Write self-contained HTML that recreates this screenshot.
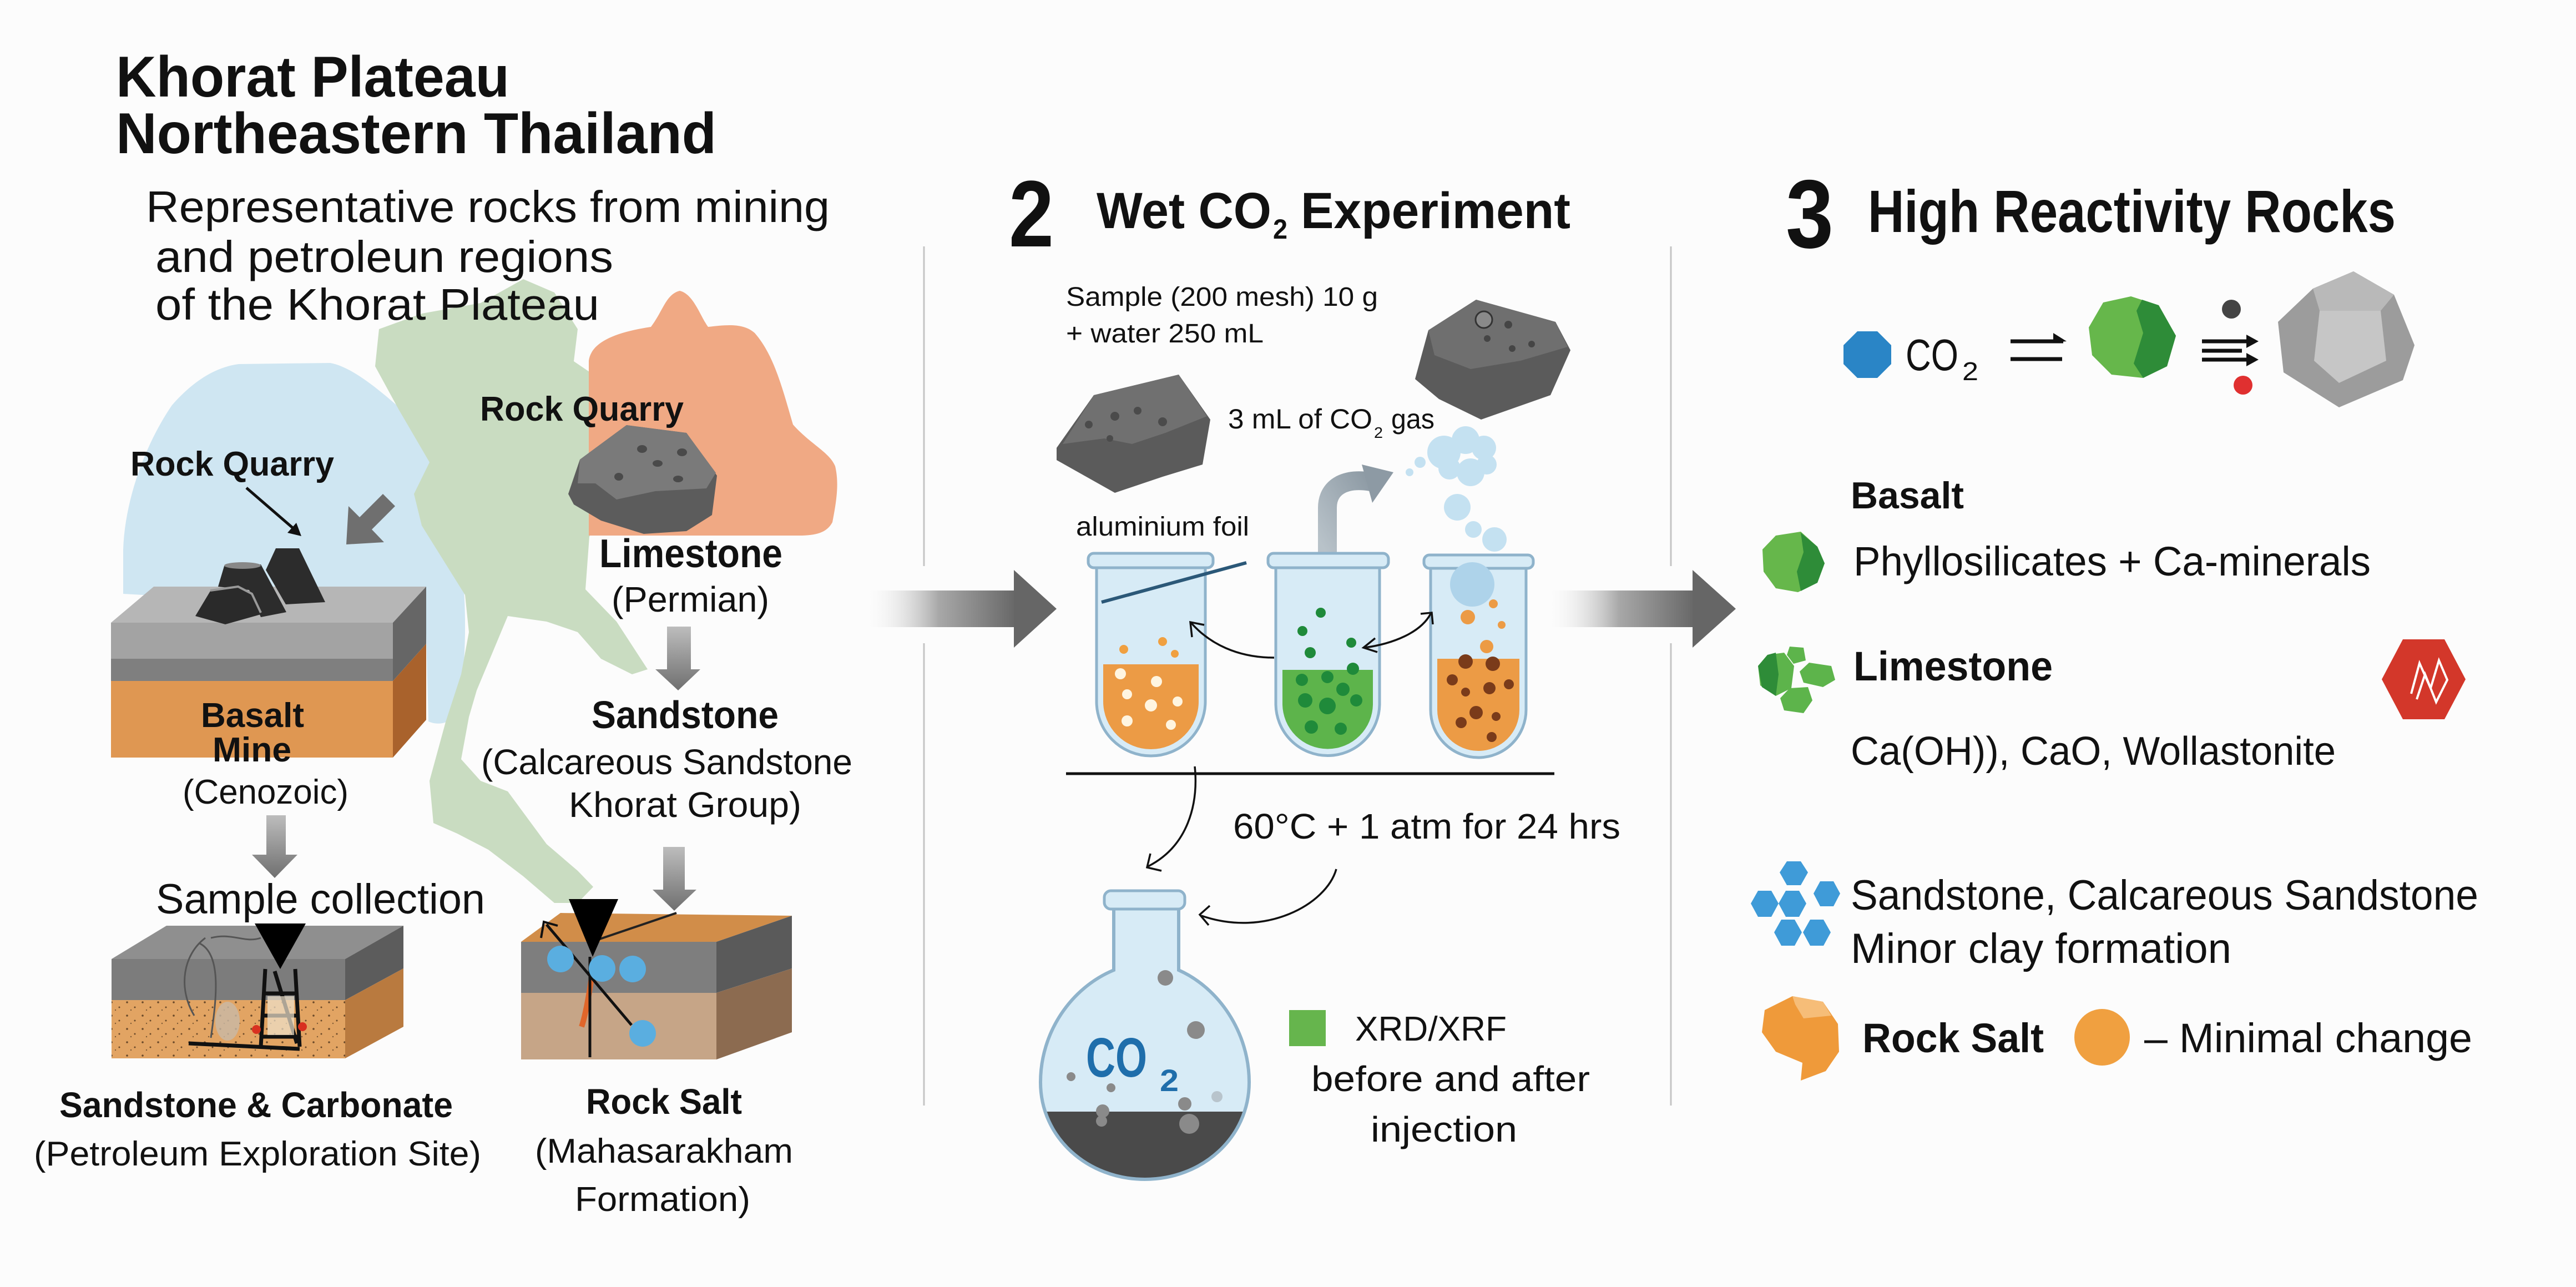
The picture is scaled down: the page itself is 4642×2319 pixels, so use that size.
<!DOCTYPE html>
<html><head><meta charset="utf-8"><style>
html,body{margin:0;padding:0;background:#fcfcfc;}
svg{display:block;}
text{font-family:"Liberation Sans",sans-serif;fill:#111;}
.b{font-weight:bold;}
</style></head><body>
<svg width="4642" height="2319" viewBox="0 0 4642 2319" xmlns="http://www.w3.org/2000/svg">
<defs>
<linearGradient id="ha" x1="0" y1="0" x2="1" y2="0"><stop offset="0" stop-color="#ffffff" stop-opacity="0"/><stop offset="0.5" stop-color="#a8a8a8"/><stop offset="1" stop-color="#686868"/></linearGradient>
<linearGradient id="va" x1="0" y1="0" x2="0" y2="1"><stop offset="0" stop-color="#bdbdbd"/><stop offset="1" stop-color="#6f6f6f"/></linearGradient>
<linearGradient id="ga" x1="0" y1="1" x2="1" y2="0"><stop offset="0" stop-color="#b8c2c9"/><stop offset="1" stop-color="#8d9aa4"/></linearGradient>
<pattern id="sand" width="28" height="24" patternUnits="userSpaceOnUse"><rect width="28" height="24" fill="#e2a463"/><circle cx="5" cy="6" r="1.8" fill="#6b4a2a"/><circle cx="19" cy="15" r="1.5" fill="#6b4a2a"/><circle cx="12" cy="20" r="1.2" fill="#7d5a35"/></pattern>
<clipPath id="flaskclip"><path d="M2007,1636 L2007,1748 C1930,1780 1875,1860 1875,1950 C1875,2050 1960,2125 2063,2125 C2166,2125 2251,2050 2251,1950 C2251,1860 2196,1780 2124,1748 L2124,1636 Z"/></clipPath>
</defs>
<rect width="4642" height="2319" fill="#fcfcfc"/>

<!-- ============ LEFT PANEL ============ -->
<!-- blue region -->
<path d="M222,1070 L222,990 C225,900 262,800 310,730 C345,690 385,662 430,656 L595,654 C640,662 700,715 775,785 C800,840 815,920 830,1000 C842,1090 840,1190 828,1270 C822,1300 795,1310 772,1300 L767,1100 Z" fill="#cfe6f2"/>
<!-- green Thailand -->
<path d="M683,593 L760,565 L866,546 L943,503 L999,527 L1041,593 L1034,651 L1062,670 L1083,737 L1083,928 L1062,967 L1055,1062 L1111,1120 L1167,1206 L1139,1215 L1083,1187 L1041,1139 L985,1120 L915,1110 L887,1177 L859,1244 L845,1292 L831,1368 L866,1407 L915,1426 L943,1464 L985,1521 L1041,1569 L1069,1598 L1041,1627 L999,1627 L943,1579 L880,1531 L824,1502 L781,1483 L774,1407 L803,1301 L831,1215 L845,1139 L838,1072 L760,947 L746,890 L774,833 L718,737 L676,660 Z" fill="#c9dcc1"/>
<!-- orange region -->
<path d="M1061,965 L1061,650 C1065,620 1100,600 1173,589 C1195,560 1200,530 1225,524 C1250,530 1262,570 1276,589 C1310,585 1340,582 1360,600 C1395,640 1410,700 1429,765 C1460,800 1495,815 1505,840 C1512,870 1508,900 1500,941 C1490,960 1470,965 1440,965 Z" fill="#f0a984"/>

<!-- Titles -->
<text class="b" x="209" y="174" font-size="104" textLength="709" lengthAdjust="spacingAndGlyphs">Khorat Plateau</text>
<text class="b" x="209" y="276" font-size="104" textLength="1082" lengthAdjust="spacingAndGlyphs">Northeastern Thailand</text>
<text x="263" y="400" font-size="80" textLength="1232" lengthAdjust="spacingAndGlyphs">Representative rocks from mining</text>
<text x="280" y="490" font-size="80" textLength="825" lengthAdjust="spacingAndGlyphs">and petroleun regions</text>
<text x="280" y="576" font-size="80" textLength="800" lengthAdjust="spacingAndGlyphs">of the Khorat Plateau</text>

<!-- limestone rock -->
<polygon points="1024,890 1045,828 1129,766 1237,780 1292,857 1283,928 1237,957 1160,962 1083,938 1034,909" fill="#5c5c5c"/>
<polygon points="1045,828 1129,766 1237,780 1290,852 1273,880 1181,885 1111,900 1073,871 1041,871" fill="#7a7a7a"/>
<g fill="#4a4a4a"><ellipse cx="1157" cy="809" rx="9" ry="7"/><ellipse cx="1229" cy="815" rx="9" ry="7"/><ellipse cx="1185" cy="835" rx="9" ry="6"/><ellipse cx="1115" cy="859" rx="8" ry="7"/><ellipse cx="1222" cy="863" rx="9" ry="6"/></g>

<text class="b" x="865" y="758" font-size="62" textLength="367" lengthAdjust="spacingAndGlyphs">Rock Quarry</text>
<text class="b" x="235" y="857" font-size="62" textLength="367" lengthAdjust="spacingAndGlyphs">Rock Quarry</text>
<text class="b" x="1080" y="1022" font-size="72" textLength="330" lengthAdjust="spacingAndGlyphs">Limestone</text>
<text x="1102" y="1102" font-size="64" textLength="284" lengthAdjust="spacingAndGlyphs">(Permian)</text>

<!-- black arrow to basalt -->
<line x1="444" y1="879" x2="532" y2="955" stroke="#111" stroke-width="5"/>
<polygon points="543,966 518,960 534,942" fill="#111"/>
<!-- gray fat arrow down-left -->
<polygon points="624,981 628,912 648,932 690,890 712,912 670,954 692,977" fill="#6f6f6f"/>

<!-- Basalt block -->
<polygon points="200,1122 708,1122 768,1057 277,1057" fill="#b6b6b6"/>
<rect x="200" y="1122" width="508" height="65" fill="#a3a3a3"/>
<rect x="200" y="1187" width="508" height="40" fill="#7f7f7f"/>
<rect x="200" y="1227" width="508" height="138" fill="#df9752"/>
<polygon points="708,1122 768,1057 768,1160 708,1227" fill="#666"/>
<polygon points="708,1227 768,1160 768,1297 708,1365" fill="#a9622c"/>
<!-- black rocks -->
<polygon points="497,988 539,988 586,1085 515,1089 479,1027" fill="#2c2c2c"/>
<polygon points="404,1020 470,1017 516,1103 470,1112 449,1063 393,1057" fill="#2c2c2c"/>
<ellipse cx="437" cy="1019" rx="33" ry="6" fill="#888"/>
<polygon points="379,1065 429,1057 454,1070 470,1107 406,1125 352,1110" fill="#2a2a2a"/>
<path d="M379,1064 L429,1057 L454,1070 L470,1104" fill="none" stroke="#999" stroke-width="4"/>

<text class="b" x="362" y="1310" font-size="62" textLength="186" lengthAdjust="spacingAndGlyphs">Basalt</text>
<text class="b" x="383" y="1372" font-size="62" textLength="142" lengthAdjust="spacingAndGlyphs">Mine</text>
<text x="329" y="1448" font-size="62" textLength="299" lengthAdjust="spacingAndGlyphs">(Cenozoic)</text>

<!-- down arrows -->
<polygon points="480,1469 515,1469 515,1540 536,1540 495,1582 454,1540 480,1540" fill="url(#va)"/>
<polygon points="1202,1129 1245,1129 1245,1206 1262,1206 1222,1244 1181,1206 1202,1206" fill="url(#va)"/>
<polygon points="1195,1526 1234,1526 1234,1603 1255,1603 1215,1641 1176,1603 1195,1603" fill="url(#va)"/>

<text class="b" x="1066" y="1312" font-size="70" textLength="337" lengthAdjust="spacingAndGlyphs">Sandstone</text>
<text x="867" y="1395" font-size="64" textLength="669" lengthAdjust="spacingAndGlyphs">(Calcareous Sandstone</text>
<text x="1025" y="1472" font-size="64" textLength="419" lengthAdjust="spacingAndGlyphs">Khorat Group)</text>
<text x="281" y="1646" font-size="76" textLength="593" lengthAdjust="spacingAndGlyphs">Sample collection</text>

<!-- Sandstone & carbonate block -->
<polygon points="201,1728 622,1728 727,1668 300,1668" fill="#8f8f8f"/>
<rect x="201" y="1728" width="421" height="74" fill="#7c7c7c"/>
<rect x="201" y="1802" width="421" height="105" fill="url(#sand)"/>
<polygon points="622,1728 727,1668 727,1745 622,1802" fill="#5c5c5c"/>
<polygon points="622,1802 727,1745 727,1850 622,1907" fill="#b97a3f"/>
<path d="M370,1690 C330,1720 320,1780 350,1830 M360,1700 C400,1720 390,1800 380,1870 M380,1690 C420,1680 440,1700 470,1690" fill="none" stroke="#555" stroke-width="3"/>
<ellipse cx="410" cy="1840" rx="22" ry="35" fill="#c9b9a6" opacity="0.8"/>
<!-- derrick -->
<polygon points="459,1664 551,1664 505,1746" fill="#000"/>
<g stroke="#111" stroke-width="7" fill="none"><line x1="478" y1="1746" x2="470" y2="1886"/><line x1="532" y1="1746" x2="540" y2="1886"/><line x1="476" y1="1790" x2="534" y2="1790"/><line x1="474" y1="1830" x2="537" y2="1830"/><line x1="472" y1="1868" x2="539" y2="1868"/><line x1="340" y1="1880" x2="540" y2="1890"/><line x1="495" y1="1750" x2="535" y2="1880"/></g>
<rect x="482" y="1795" width="48" height="70" fill="#efe2cd" opacity="0.7"/>
<circle cx="462" cy="1855" r="8" fill="#d83020"/><circle cx="545" cy="1850" r="8" fill="#d83020"/>

<!-- Rock salt block -->
<polygon points="939,1697 1291,1697 1427,1650 1010,1645" fill="#d18d49"/>
<rect x="939" y="1697" width="352" height="92" fill="#7e7e7e"/>
<rect x="939" y="1789" width="352" height="120" fill="#c6a587"/>
<polygon points="1291,1697 1427,1650 1427,1745 1291,1789" fill="#5a5a5a"/>
<polygon points="1291,1789 1427,1745 1427,1860 1291,1909" fill="#8c6b50"/>
<line x1="1066" y1="1697" x2="1219" y2="1645" stroke="#222" stroke-width="4"/>
<path d="M1068,1748 C1062,1790 1055,1830 1048,1850" stroke="#e0662a" stroke-width="10" fill="none"/>
<line x1="985" y1="1666" x2="1138" y2="1847" stroke="#111" stroke-width="5"/>
<polyline points="975,1690 980,1661 1005,1668" stroke="#111" stroke-width="4" fill="none"/>
<line x1="1063" y1="1724" x2="1063" y2="1905" stroke="#111" stroke-width="5"/>
<g fill="#5aaee0"><ellipse cx="1010" cy="1728" rx="24" ry="24"/><ellipse cx="1085" cy="1745" rx="24" ry="24"/><ellipse cx="1140" cy="1746" rx="24" ry="24"/><ellipse cx="1158" cy="1862" rx="24" ry="24"/></g>
<polygon points="1025,1620 1114,1620 1068,1724" fill="#000"/>

<text class="b" x="107" y="2013" font-size="64" textLength="709" lengthAdjust="spacingAndGlyphs">Sandstone &amp; Carbonate</text>
<text x="61" y="2100" font-size="62" textLength="806" lengthAdjust="spacingAndGlyphs">(Petroleum Exploration Site)</text>
<text class="b" x="1056" y="2007" font-size="64" textLength="281" lengthAdjust="spacingAndGlyphs">Rock Salt</text>
<text x="964" y="2095" font-size="62" textLength="465" lengthAdjust="spacingAndGlyphs">(Mahasarakham</text>
<text x="1036" y="2182" font-size="62" textLength="316" lengthAdjust="spacingAndGlyphs">Formation)</text>

<!-- ============ BIG ARROWS & DIVIDERS ============ -->
<rect x="1554" y="1064" width="275" height="66" fill="url(#ha)"/>
<polygon points="1827,1027 1904,1097 1827,1167" fill="#666"/>
<rect x="2783" y="1064" width="269" height="66" fill="url(#ha)"/>
<polygon points="3050,1027 3128,1097 3050,1167" fill="#666"/>
<g stroke="#c4c4c4" stroke-width="3"><line x1="1665" y1="444" x2="1665" y2="1020"/><line x1="1665" y1="1159" x2="1665" y2="1992"/><line x1="3011" y1="444" x2="3011" y2="1020"/><line x1="3011" y1="1159" x2="3011" y2="1992"/></g>

<!-- ============ MIDDLE PANEL ============ -->
<text class="b" x="1818" y="444" font-size="170" textLength="81" lengthAdjust="spacingAndGlyphs">2</text>
<text class="b" x="1976" y="411" font-size="92" textLength="315" lengthAdjust="spacingAndGlyphs">Wet CO</text>
<text class="b" x="2294" y="430" font-size="50" textLength="26" lengthAdjust="spacingAndGlyphs">2</text>
<text class="b" x="2344" y="411" font-size="92" textLength="486" lengthAdjust="spacingAndGlyphs">Experiment</text>

<text x="1921" y="551" font-size="48" textLength="562" lengthAdjust="spacingAndGlyphs">Sample (200 mesh) 10 g</text>
<text x="1921" y="617" font-size="48" textLength="356" lengthAdjust="spacingAndGlyphs">+ water 250 mL</text>

<!-- rocks -->
<polygon points="1904,807 1971,712 2124,675 2181,756 2167,837 2095,859 2009,888 1904,829" fill="#5b5b5b"/>
<polygon points="1915,800 1971,712 2124,675 2175,750 2100,780 2040,800 1990,790" fill="#707070"/>
<g fill="#4b4b4b"><circle cx="1962" cy="765" r="7"/><circle cx="2009" cy="750" r="8"/><circle cx="2050" cy="740" r="7"/><circle cx="2095" cy="760" r="8"/><circle cx="2000" cy="790" r="6"/></g>
<polygon points="2550,683 2574,595 2660,540 2803,580 2830,631 2794,712 2669,756 2593,719" fill="#5b5b5b"/>
<polygon points="2574,595 2660,540 2803,580 2825,625 2740,650 2650,665 2585,640" fill="#6f6f6f"/>
<circle cx="2674" cy="576" r="15" fill="#8a8a8a" stroke="#333" stroke-width="3"/>
<g fill="#454545"><circle cx="2718" cy="585" r="7"/><circle cx="2680" cy="610" r="6"/><circle cx="2725" cy="628" r="6"/><circle cx="2760" cy="620" r="6"/></g>

<text x="2213" y="772" font-size="50" textLength="260" lengthAdjust="spacingAndGlyphs">3 mL of CO</text>
<text x="2476" y="789" font-size="28" textLength="16" lengthAdjust="spacingAndGlyphs">2</text>
<text x="2507" y="772" font-size="50" textLength="78" lengthAdjust="spacingAndGlyphs">gas</text>

<!-- cloud -->
<g fill="#c4e1f1"><circle cx="2602" cy="815" r="30"/><circle cx="2641" cy="793" r="25"/><circle cx="2674" cy="807" r="22"/><circle cx="2679" cy="837" r="18"/><circle cx="2650" cy="851" r="25"/><circle cx="2612" cy="844" r="20"/><circle cx="2559" cy="833" r="10"/><circle cx="2540" cy="851" r="7"/><circle cx="2626" cy="914" r="24"/><circle cx="2655" cy="954" r="15"/><circle cx="2693" cy="972" r="22"/></g>

<!-- gray curved arrow -->
<path d="M2392,1000 L2392,915 C2392,880 2420,860 2470,868" fill="none" stroke="url(#ga)" stroke-width="34"/>
<polygon points="2454,837 2511,851 2473,906" fill="#8d9aa4"/>

<text x="1939" y="965" font-size="48" textLength="312" lengthAdjust="spacingAndGlyphs">aluminium foil</text>

<!-- tubes -->
<g stroke="#8fb3cb" stroke-width="5" fill="#d7ebf6">
<path d="M1976,1020 L1976,1264 A98,98 0 0 0 2172,1264 L2172,1020 Z"/>
<path d="M2299,1020 L2299,1268 A93.5,93.5 0 0 0 2486,1268 L2486,1020 Z"/>
<path d="M2578,1022 L2578,1279 A86,86 0 0 0 2750,1279 L2750,1022 Z"/>
<rect x="1961" y="997" width="225" height="26" rx="10"/>
<rect x="2285" y="997" width="217" height="26" rx="10"/>
<rect x="2566" y="1000" width="197" height="24" rx="10"/>
</g>
<path d="M1988,1197 L1988,1264 A86,86 0 0 0 2160,1264 L2160,1197 Z" fill="#ec9b45"/>
<path d="M2311,1207 L2311,1268 A81.5,81.5 0 0 0 2474,1268 L2474,1207 Z" fill="#5db44b"/>
<path d="M2590,1187 L2590,1279 A74,74 0 0 0 2738,1279 L2738,1187 Z" fill="#ec9b45"/>
<g fill="#fff5e0"><circle cx="2019" cy="1214" r="10"/><circle cx="2084" cy="1228" r="10"/><circle cx="2031" cy="1251" r="9"/><circle cx="2074" cy="1271" r="11"/><circle cx="2122" cy="1264" r="9"/><circle cx="2031" cy="1299" r="10"/><circle cx="2110" cy="1306" r="9"/></g>
<g fill="#f0a040"><circle cx="2095" cy="1156" r="8"/><circle cx="2025" cy="1170" r="8"/><circle cx="2117" cy="1178" r="7"/></g>
<g fill="#1f8a3a"><circle cx="2380" cy="1104" r="9"/><circle cx="2347" cy="1137" r="9"/><circle cx="2361" cy="1176" r="10"/><circle cx="2435" cy="1158" r="9"/><circle cx="2438" cy="1205" r="11"/><circle cx="2346" cy="1225" r="11"/><circle cx="2392" cy="1220" r="11"/><circle cx="2420" cy="1242" r="12"/><circle cx="2352" cy="1262" r="13"/><circle cx="2392" cy="1272" r="15"/><circle cx="2444" cy="1262" r="11"/><circle cx="2363" cy="1310" r="12"/><circle cx="2416" cy="1313" r="11"/></g>
<circle cx="2653" cy="1053" r="40" fill="#aed3ea"/>
<g fill="#ec9b45"><circle cx="2691" cy="1088" r="8"/><circle cx="2645" cy="1112" r="13"/><circle cx="2706" cy="1126" r="7"/><circle cx="2679" cy="1165" r="12"/></g>
<g fill="#7a3b1a"><circle cx="2641" cy="1192" r="13"/><circle cx="2690" cy="1196" r="13"/><circle cx="2617" cy="1225" r="10"/><circle cx="2684" cy="1240" r="11"/><circle cx="2719" cy="1233" r="9"/><circle cx="2641" cy="1247" r="8"/><circle cx="2660" cy="1284" r="12"/><circle cx="2696" cy="1291" r="8"/><circle cx="2633" cy="1302" r="10"/><circle cx="2688" cy="1328" r="9"/></g>
<!-- foil -->
<line x1="1985" y1="1085" x2="2246" y2="1014" stroke="#2b5878" stroke-width="6"/>
<!-- thin arrows -->
<g fill="none" stroke="#111" stroke-width="3.5">
<path d="M2296,1185 C2230,1185 2180,1160 2147,1123"/>
<polyline points="2148,1148 2145,1121 2170,1126"/>
<path d="M2459,1167 C2510,1160 2560,1140 2578,1106"/>
<polyline points="2478,1150 2457,1167 2482,1175"/>
<polyline points="2560,1106 2580,1104 2582,1125"/>
<line x1="1921" y1="1394" x2="2801" y2="1394" stroke-width="5"/>
<path d="M2153,1381 C2160,1450 2140,1525 2069,1561"/>
<polyline points="2073,1538 2067,1563 2093,1569"/>
<path d="M2408,1566 C2390,1630 2280,1690 2165,1650"/>
<polyline points="2180,1632 2162,1648 2178,1667"/>
</g>

<text x="2222" y="1511" font-size="64" textLength="698" lengthAdjust="spacingAndGlyphs">60°C + 1 atm for 24 hrs</text>

<!-- flask -->
<path d="M2007,1636 L2007,1748 C1930,1780 1875,1860 1875,1950 C1875,2050 1960,2125 2063,2125 C2166,2125 2251,2050 2251,1950 C2251,1860 2196,1780 2124,1748 L2124,1636 Z" fill="#d7ebf6"/>
<g clip-path="url(#flaskclip)"><rect x="1860" y="2003" width="400" height="140" fill="#4a4a4a"/></g>
<path d="M2007,1636 L2007,1748 C1930,1780 1875,1860 1875,1950 C1875,2050 1960,2125 2063,2125 C2166,2125 2251,2050 2251,1950 C2251,1860 2196,1780 2124,1748 L2124,1636" fill="none" stroke="#8fb3cb" stroke-width="6"/>
<rect x="1990" y="1605" width="145" height="33" rx="12" fill="#d7ebf6" stroke="#8fb3cb" stroke-width="5"/>
<g fill="#8a8a8a"><circle cx="2100" cy="1762" r="14"/><circle cx="2155" cy="1856" r="16"/><circle cx="1930" cy="1940" r="8"/><circle cx="2002" cy="1960" r="8"/><circle cx="2135" cy="1989" r="12"/><circle cx="2193" cy="1976" r="10" fill="#b8c4cc"/><circle cx="1987" cy="2002" r="12"/><circle cx="2143" cy="2025" r="18"/><circle cx="1985" cy="2020" r="10"/></g>
<text class="b" x="1957" y="1940" font-size="100" textLength="110" lengthAdjust="spacingAndGlyphs" style="fill:#1f6eab">CO</text>
<text class="b" x="2090" y="1966" font-size="56" textLength="34" lengthAdjust="spacingAndGlyphs" style="fill:#1f6eab">2</text>

<rect x="2323" y="1820" width="66" height="65" fill="#66b54d"/>
<text x="2442" y="1875" font-size="62" textLength="273" lengthAdjust="spacingAndGlyphs">XRD/XRF</text>
<text x="2363" y="1966" font-size="64" textLength="502" lengthAdjust="spacingAndGlyphs">before and after</text>
<text x="2470" y="2057" font-size="64" textLength="264" lengthAdjust="spacingAndGlyphs">injection</text>

<!-- ============ RIGHT PANEL ============ -->
<text class="b" x="3218" y="446" font-size="175" textLength="86" lengthAdjust="spacingAndGlyphs">3</text>
<text class="b" x="3366" y="418" font-size="108" textLength="951" lengthAdjust="spacingAndGlyphs">High Reactivity Rocks</text>

<polygon points="3347,597 3383,597 3408,622 3408,656 3383,681 3347,681 3322,656 3322,622" fill="#2a85c6"/>
<text x="3434" y="667" font-size="80" textLength="95" lengthAdjust="spacingAndGlyphs">CO</text>
<text x="3536" y="685" font-size="46" textLength="29" lengthAdjust="spacingAndGlyphs">2</text>
<g stroke="#111" stroke-width="7"><line x1="3623" y1="615" x2="3718" y2="615"/><line x1="3623" y1="647" x2="3716" y2="647"/><line x1="3968" y1="615" x2="4060" y2="615"/><line x1="3968" y1="632" x2="4040" y2="632"/><line x1="3968" y1="648" x2="4060" y2="648"/></g>
<polygon points="3700,600 3724,615 3700,617" fill="#111"/>
<polygon points="4048,603 4070,615 4048,627" fill="#111"/>
<polygon points="4048,636 4070,648 4048,660" fill="#111"/>
<!-- green rock -->
<polygon points="3790,545 3840,534 3890,550 3921,605 3905,660 3862,681 3805,675 3770,640 3764,590" fill="#66b74b"/>
<polygon points="3860,540 3890,550 3921,605 3905,660 3862,681 3845,655 3862,600 3850,560" fill="#2e8c38"/>
<circle cx="4021" cy="557" r="17" fill="#444"/>
<circle cx="4042" cy="694" r="17" fill="#e03030"/>
<!-- gray rock -->
<polygon points="4105,580 4168,520 4241,489 4314,531 4351,622 4330,685 4215,734 4115,671" fill="#9c9c9c"/>
<polygon points="4168,520 4241,489 4314,531 4290,560 4220,565 4180,560" fill="#b9b9b9"/>
<polygon points="4180,560 4290,560 4300,650 4215,690 4170,650" fill="#c6c6c6"/>

<text class="b" x="3335" y="916" font-size="68" textLength="204" lengthAdjust="spacingAndGlyphs">Basalt</text>
<polygon points="3200,965 3245,958 3275,985 3288,1015 3275,1050 3240,1067 3200,1060 3178,1030 3176,990" fill="#66b74b"/>
<polygon points="3245,960 3275,985 3288,1015 3275,1050 3245,1065 3238,1030 3250,995" fill="#2e8c38"/>
<text x="3340" y="1037" font-size="74" textLength="932" lengthAdjust="spacingAndGlyphs">Phyllosilicates + Ca-minerals</text>

<g fill="#5db44b">
<polygon points="3185,1180 3215,1176 3233,1200 3228,1240 3200,1254 3172,1235 3168,1200"/>
<polygon points="3225,1165 3250,1167 3254,1190 3232,1196 3220,1180"/>
<polygon points="3260,1194 3300,1200 3307,1225 3285,1238 3250,1230 3243,1210"/>
<polygon points="3225,1240 3258,1238 3266,1262 3250,1285 3215,1280 3208,1258"/>
</g>
<polygon points="3185,1180 3200,1176 3205,1215 3200,1254 3175,1238 3168,1200" fill="#2e8c38"/>
<text class="b" x="3340" y="1226" font-size="74" textLength="359" lengthAdjust="spacingAndGlyphs">Limestone</text>
<polygon points="4330,1152 4405,1152 4443,1224 4405,1296 4330,1296 4292,1224" fill="#d3372a"/>
<path d="M4345,1250 L4360,1195 L4380,1240 L4395,1190 L4410,1225 L4390,1265 L4370,1215 L4355,1260" fill="none" stroke="#fff" stroke-width="4"/>

<text x="3335" y="1378" font-size="72" textLength="874" lengthAdjust="spacingAndGlyphs">Ca(OH)), CaO, Wollastonite</text>

<g fill="#3f9bd8">
<polygon points="3220,1552 3245,1552 3258,1572 3245,1595 3220,1595 3207,1572"/>
<polygon points="3168,1605 3192,1605 3205,1628 3192,1652 3168,1652 3155,1628"/>
<polygon points="3218,1605 3242,1605 3255,1628 3242,1652 3218,1652 3205,1628"/>
<polygon points="3280,1588 3304,1588 3316,1610 3304,1633 3280,1633 3268,1610"/>
<polygon points="3210,1657 3234,1657 3247,1680 3234,1704 3210,1704 3197,1680"/>
<polygon points="3262,1657 3286,1657 3299,1680 3286,1704 3262,1704 3249,1680"/>
</g>
<text x="3335" y="1639" font-size="76" textLength="1131" lengthAdjust="spacingAndGlyphs">Sandstone,  Calcareous Sandstone</text>
<text x="3335" y="1735" font-size="76" textLength="686" lengthAdjust="spacingAndGlyphs">Minor clay formation</text>

<polygon points="3230,1795 3285,1805 3312,1845 3314,1895 3290,1930 3245,1947 3248,1915 3200,1895 3175,1860 3180,1820" fill="#ef9a3a"/>
<polygon points="3230,1795 3285,1805 3300,1830 3250,1835 3235,1810" fill="#f6bd78"/>
<text class="b" x="3356" y="1896" font-size="74" textLength="327" lengthAdjust="spacingAndGlyphs">Rock Salt</text>
<ellipse cx="3788" cy="1869" rx="50" ry="51" fill="#f0a040"/>
<text x="3864" y="1896" font-size="74" textLength="591" lengthAdjust="spacingAndGlyphs">– Minimal change</text>
</svg>
</body></html>
